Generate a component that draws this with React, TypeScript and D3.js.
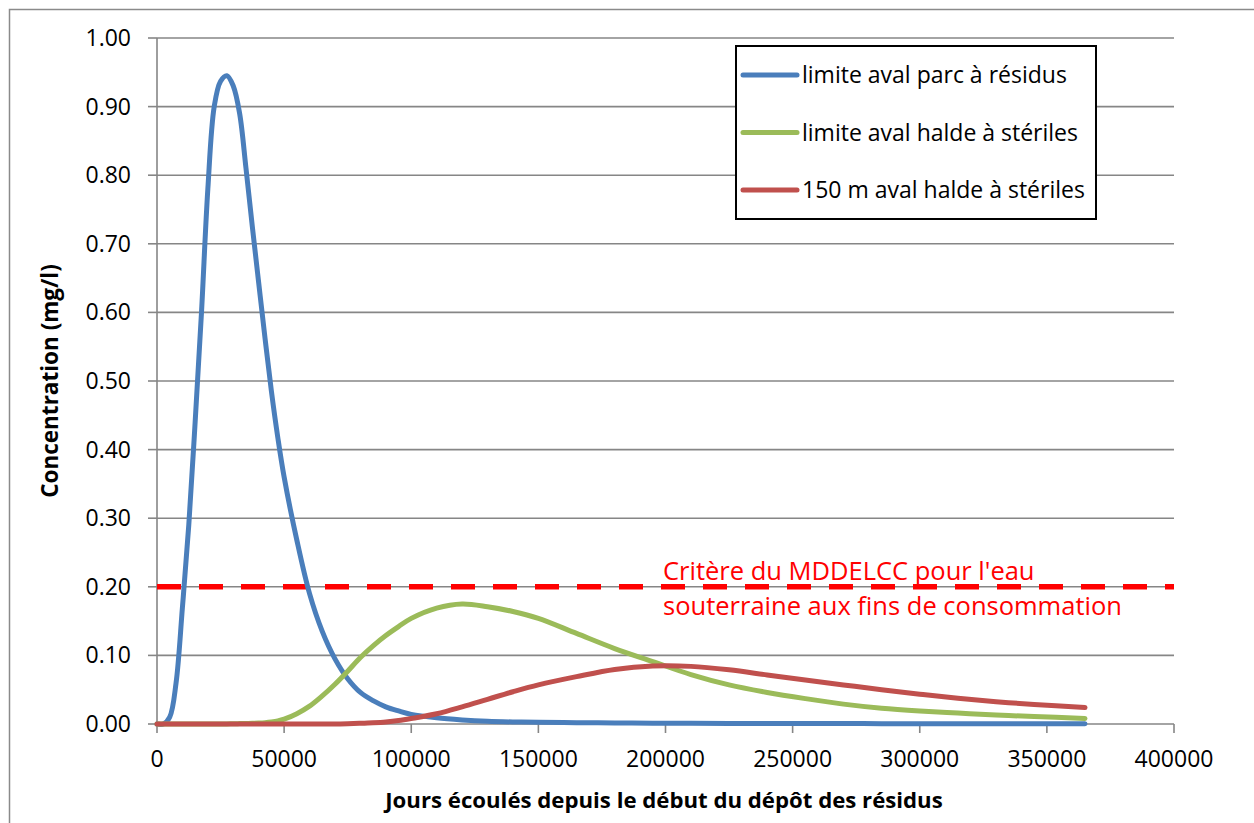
import React from "react";
import * as d3 from "d3";

const days = [0, 2500, 5000, 7500, 10000, 12500, 15000, 17500, 20000, 22500, 25000, 27500, 30000, 32500, 35000, 37500, 40000, 42500, 45000, 47500, 50000, 55000, 60000, 65000, 70000, 75000, 80000, 85000, 90000, 95000, 100000, 110000, 120000, 130000, 140000, 150000, 165000, 180000, 195000, 210000, 225000, 240000, 255000, 270000, 285000, 300000, 315000, 330000, 345000, 365000];

const parcResidus = [0, 0, 0.01, 0.06, 0.17, 0.29, 0.44, 0.6, 0.78, 0.9, 0.937, 0.945, 0.93, 0.89, 0.81, 0.725, 0.643, 0.562, 0.485, 0.418, 0.36, 0.268, 0.19, 0.135, 0.095, 0.066, 0.046, 0.034, 0.025, 0.019, 0.014, 0.009, 0.006, 0.004, 0.003, 0.0025, 0.002, 0.0015, 0.0012, 0.001, 0.0009, 0.0008, 0.0007, 0.0006, 0.0005, 0.0004, 0.0004, 0.0003, 0.0003, 0.0002];

const haldeSteriles = [0, 0, 0, 0, 0, 0, 0, 0, 0, 0, 0, 0, 0.0004, 0.0006, 0.0008, 0.001, 0.0014, 0.002, 0.003, 0.0045, 0.007, 0.015, 0.026, 0.041, 0.058, 0.077, 0.097, 0.114, 0.129, 0.142, 0.154, 0.169, 0.175, 0.171, 0.164, 0.154, 0.132, 0.11, 0.091, 0.072, 0.057, 0.046, 0.037, 0.029, 0.023, 0.019, 0.016, 0.013, 0.011, 0.008];

const aval150m = [0, 0, 0, 0, 0, 0, 0, 0, 0, 0, 0, 0, 0, 0, 0, 0, 0, 0, 0, 0, 0, 0, 0, 0, 0, 0.0004, 0.001, 0.0018, 0.003, 0.005, 0.008, 0.015, 0.025, 0.036, 0.047, 0.057, 0.069, 0.0795, 0.0845, 0.084, 0.079, 0.0715, 0.064, 0.057, 0.05, 0.0435, 0.0375, 0.0325, 0.0285, 0.024];

const seriesNames = ["limite aval parc à résidus", "limite aval halde à stériles", "150 m aval halde à stériles"];
const seriesColors = ["#4A7EBB", "#9BBB59", "#C0504D"];
const seriesValues = [parcResidus, haldeSteriles, aval150m];

const yTicks = [0, 0.1, 0.2, 0.3, 0.4, 0.5, 0.6, 0.7, 0.8, 0.9, 1.0];
const xTicks = [0, 50000, 100000, 150000, 200000, 250000, 300000, 350000, 400000];

const criterion = 0.2;
const criterionLabel = ["Critère du MDDELCC pour l'eau", "souterraine aux fins de consommation"];
const xTitle = "Jours écoulés depuis le début du dépôt des résidus";
const yTitle = "Concentration (mg/l)";

const FONT = "'Open Sans', sans-serif";

export default function App() {
  const x = d3.scaleLinear().domain([0, 400000]).range([157, 1174]);
  const y = d3.scaleLinear().domain([0, 1]).range([724, 38]);
  const line = d3
    .line<[number, number]>()
    .x((d) => x(d[0]))
    .y((d) => y(Math.max(0, d[1])))
    .curve(d3.curveCatmullRom.alpha(0.5));

  const gridColor = "#868686";

  return (
    <svg
      width={1254}
      height={823}
      style={{ position: "absolute", left: 0, top: 0, background: "#fff" }}
      fontFamily={FONT}
    >
      <rect x={0} y={0} width={1254} height={823} fill="#fff" />
      <rect x={9.5} y={9.5} width={1300} height={900} fill="none" stroke="#8a8a8a" strokeWidth={1.5} />

      {/* gridlines */}
      {yTicks.slice(1).map((t) => (
        <line key={"g" + t} x1={x(0)} x2={x(400000)} y1={y(t)} y2={y(t)} stroke={gridColor} strokeWidth={1.6} />
      ))}
      {/* axes */}
      <line x1={x(0)} x2={x(0)} y1={y(1)} y2={y(0)} stroke={gridColor} strokeWidth={1.6} />
      <line x1={x(0)} x2={x(400000)} y1={y(0)} y2={y(0)} stroke={gridColor} strokeWidth={1.6} />
      {yTicks.map((t) => (
        <g key={"yt" + t}>
          <line x1={x(0) - 9} x2={x(0)} y1={y(t)} y2={y(t)} stroke={gridColor} strokeWidth={1.6} />
          <text x={131} y={y(t) + 8} textAnchor="end" fontSize={23} fill="#000">
            {d3.format(".2f")(t)}
          </text>
        </g>
      ))}
      {xTicks.map((t) => (
        <g key={"xt" + t}>
          <line x1={x(t)} x2={x(t)} y1={y(0)} y2={y(0) + 9} stroke={gridColor} strokeWidth={1.6} />
          <text x={x(t)} y={767} textAnchor="middle" fontSize={23} fill="#000">
            {String(t)}
          </text>
        </g>
      ))}

      {/* criterion line */}
      <line
        x1={x(0)}
        x2={x(400000)}
        y1={y(criterion)}
        y2={y(criterion)}
        stroke="#FF0000"
        strokeWidth={5.5}
        strokeDasharray="24 18"
      />

      {/* series */}
      {seriesValues.map((vals, i) => (
        <path
          key={"s" + i}
          d={line(days.map((d, j) => [d, vals[j]] as [number, number])) || ""}
          fill="none"
          stroke={seriesColors[i]}
          strokeWidth={5}
          strokeLinecap="round"
          strokeLinejoin="round"
        />
      ))}

      {/* criterion label */}
      {criterionLabel.map((s, i) => (
        <text key={"cl" + i} x={663} y={580 + i * 35} fontSize={25.5} fill="#FF0000">
          {s}
        </text>
      ))}

      {/* legend */}
      <rect x={736} y={46} width={360} height={173} fill="#fff" stroke="#000" strokeWidth={2} />
      {seriesNames.map((n, i) => (
        <g key={"lg" + i}>
          <line x1={743} x2={797} y1={75 + i * 57.5} y2={75 + i * 57.5} stroke={seriesColors[i]} strokeWidth={5} strokeLinecap="round" />
          <text x={802} y={83 + i * 57.5} fontSize={23} fill="#000">
            {n}
          </text>
        </g>
      ))}

      {/* axis titles */}
      <text x={664} y={808} textAnchor="middle" fontSize={22.2} fontWeight="bold" fill="#000">
        {xTitle}
      </text>
      <text
        transform={`translate(58, ${(y(0) + y(1)) / 2}) rotate(-90)`}
        textAnchor="middle"
        fontSize={22.5}
        fontWeight="bold"
        fill="#000"
      >
        {yTitle}
      </text>
    </svg>
  );
}
